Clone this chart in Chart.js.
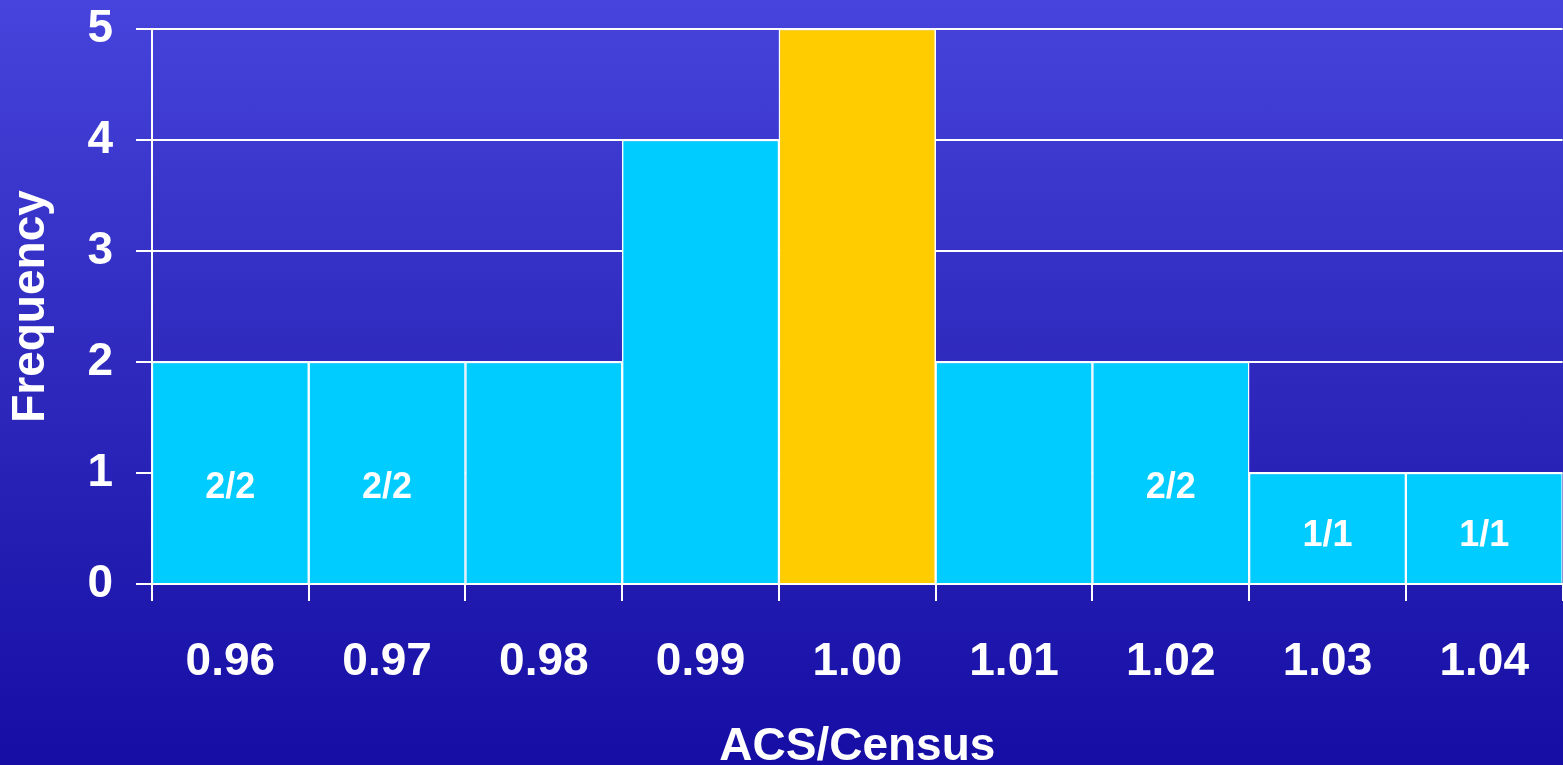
<!DOCTYPE html>
<html>
<head>
<meta charset="utf-8">
<script src="https://cdn.jsdelivr.net/npm/chart.js@4"></script>
<style>
  html, body { margin: 0; padding: 0; }
  body {
    width: 1563px; height: 765px; overflow: hidden;
    background: linear-gradient(to bottom, #4644dc 0%, #2e28bc 50%, #160ea4 100%);
  }
  #wrap { position: relative; width: 1563px; height: 765px; }
</style>
</head>
<body>
<div id="wrap"><canvas id="histChart"></canvas></div>
<script>
var categories = ['0.96', '0.97', '0.98', '0.99', '1.00', '1.01', '1.02', '1.03', '1.04'];
var frequency = [2, 2, 2, 4, 5, 2, 2, 1, 1];
var barNotes = ['2/2', '2/2', '', '', '', '', '2/2', '1/1', '1/1'];
var yTicks = [0, 1, 2, 3, 4, 5];

var cyan = '#00ccff';
var gold = '#ffcc00';
var font = 'Arial, "Liberation Sans", sans-serif';

// small white labels drawn inside some bars
var barNotesPlugin = {
  id: 'barNotes',
  afterDatasetsDraw: function (chart) {
    var ctx = chart.ctx;
    var meta = chart.getDatasetMeta(0);
    var yScale = chart.scales.y;
    ctx.save();
    ctx.fillStyle = '#ffffff';
    ctx.font = 'bold 36px ' + font;
    ctx.textAlign = 'center';
    ctx.textBaseline = 'middle';
    meta.data.forEach(function (bar, i) {
      if (!barNotes[i]) return;
      var y = yScale.getPixelForValue(frequency[i] * 0.43);
      ctx.fillText(barNotes[i], bar.x, y);
    });
    ctx.restore();
  }
};

document.addEventListener("DOMContentLoaded", function () {
  var ctx = document.getElementById('histChart').getContext('2d');
  var histChart = new Chart(ctx, {
    type: 'bar',
    data: {
      labels: categories,
      datasets: [{
        label: 'Frequency',
        data: frequency,
        backgroundColor: categories.map(function (c) { return c === '1.00' ? gold : cyan; }),
        borderColor: '#ffffff',
        borderWidth: 1.5,
        barPercentage: 1,
        categoryPercentage: 1
      }]
    },
    options: {
      responsive: true,
      maintainAspectRatio: false,
      animation: false,
      layout: { padding: { top: 29, right: 0, left: 0, bottom: 0 } },
      plugins: {
        legend: { display: false },
        tooltip: { enabled: false }
      },
      scales: {
        x: {
          grid: {
            offset: true,
            drawOnChartArea: false,
            color: '#ffffff',
            lineWidth: 2,
            tickLength: 17
          },
          border: { color: '#ffffff', width: 2 },
          ticks: {
            color: '#ffffff',
            font: { family: font, size: 46, weight: 'bold' },
            padding: 34,
            maxRotation: 0
          },
          title: {
            display: true,
            text: 'ACS/Census',
            color: '#ffffff',
            font: { family: font, size: 46, weight: 'bold' },
            padding: { top: 0, bottom: -10 }
          },
          afterFit: function (scale) { scale.height = 181; }
        },
        y: {
          min: 0,
          max: 5,
          afterBuildTicks: function (scale) {
            scale.ticks = yTicks.map(function (v) { return { value: v }; });
          },
          grid: {
            color: '#ffffff',
            lineWidth: 2,
            tickLength: 16
          },
          border: { color: '#ffffff', width: 2 },
          ticks: {
            color: '#ffffff',
            font: { family: font, size: 46, weight: 'bold' },
            padding: 23
          },
          title: {
            display: true,
            text: 'Frequency',
            color: '#ffffff',
            font: { family: font, size: 46, weight: 'bold' },
            padding: { top: 4, bottom: 0 }
          },
          afterFit: function (scale) {
            scale.width = 152;
            scale.paddingTop = 0;
            scale.paddingBottom = 0;
          }
        }
      }
    },
    plugins: [barNotesPlugin]
  });
});
</script>
</body>
</html>
